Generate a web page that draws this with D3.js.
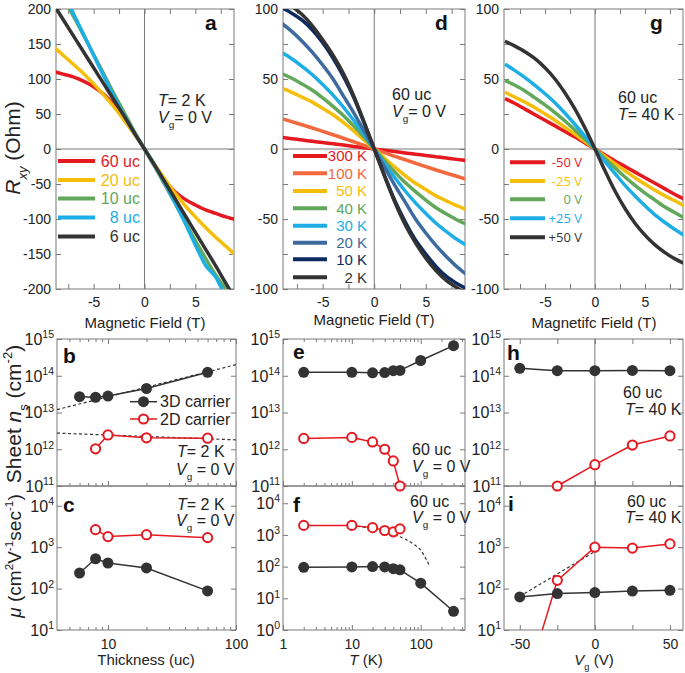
<!DOCTYPE html>
<html><head><meta charset="utf-8">
<script src="https://cdn.jsdelivr.net/npm/d3@7"></script>
<style>body{margin:0;background:#fff}svg{display:block}text{font-family:"Liberation Sans",Arial,sans-serif}</style>
</head><body><svg id="c" width="685" height="673"></svg>
<script>
// ---------------- DATA ----------------
const fieldB = [-9,-8,-7,-6,-5,-4,-3,-2,-1,0,1,2,3,4,5,6,7,8,9];
// panel a : Rxy vs B for thickness (T=2K, Vg=0)
const thickLabels = ['60 uc','20 uc','10 uc','8 uc','6 uc'];
const rxy60uc = [111,107,103,97,89,78,63,44,23,0,-24,-45,-61,-72,-80,-87,-92,-97,-101];
const rxy20uc = [147,134,121,108,93,77,60,41,21,0,-22,-43,-63,-81,-97,-112,-126,-139,-152];
const rxy10uc = [245,216,190,163,135,107,79,52,25,0,-25,-51,-77,-104,-131,-156,-180,-201,-224];
const rxy8uc  = [252,223,194,164,134,104,75,48,23,0,-23,-49,-77,-106,-137,-166,-183,-212,-240];
const rxy6uc  = [208,185,162,139,116,93,70,47,23,0,-23,-47,-71,-95,-119,-143,-167,-192,-216];
// panel d : Rxy vs B for temperature (60 uc, Vg=0)
const tempLabels = ['300 K','100 K','50 K','40 K','30 K','20 K','10 K','2 K'];
const rxy300K = [8.3,7.4,6.4,5.5,4.6,3.7,2.8,1.8,0.9,0,-0.9,-1.8,-2.8,-3.7,-4.6,-5.5,-6.4,-7.4,-8.3];
const rxy100K = [21.8,19.5,17.3,15,12.6,10.2,7.7,5.2,2.6,0,-2.6,-5.2,-7.7,-10.2,-12.6,-15,-17.3,-19.5,-21.8];
const rxy50K  = [43.5,40.5,37,33.5,29,24.5,19,13,6.5,0,-6.5,-13,-19,-24.5,-29,-33.5,-37,-40.5,-43.5];
const rxy40K  = [54,50.5,46.5,42,36.5,30.5,24,16.5,8.5,0,-8.5,-16.5,-24,-30.5,-36.5,-42,-46.5,-50.5,-54];
const rxy30K  = [69,64.5,59,53,46,38.5,30,20.5,10.5,0,-10.5,-20.5,-30,-38.5,-46,-53,-59,-64.5,-69];
const rxy20K  = [90,84,77,69,60,50,38,26,13,0,-13,-26,-38,-50,-60,-69,-77,-84,-90];
const rxy10K  = [101,97,92,85,76,65,52,37,19,0,-19,-37,-52,-65,-75,-84,-91,-96,-100];
const rxy2K   = [107,102,96,88,78,67,54,38,19.5,0,-19.5,-38,-54,-67,-78,-87,-94,-99,-104];
// panel g : Rxy vs B for gate voltage (60 uc, T=40K)
const gateLabels = ['-50 V','-25 V','0 V','+25 V','+50 V'];
const rxyVm50 = [36,32.5,28.5,24.5,20.5,16.5,12.5,8.5,4.3,0,-4.3,-8.5,-12.5,-16.5,-20.5,-24.5,-28.5,-32.5,-36];
const rxyVm25 = [40.5,37,33.5,29.5,25,20.5,15.5,10.5,5.3,0,-5.3,-10.5,-15.5,-20.5,-25,-29.5,-33.5,-37,-41];
const rxyV0   = [49,45.5,41.5,36.5,31.5,26,20,13.5,7,0,-7,-13.5,-20,-26,-31.5,-36.5,-41.5,-45.5,-49.5];
const rxyVp25 = [60.5,56,51,45.5,39.5,33,25.5,17.5,9,0,-9,-17.5,-26,-33.5,-40.5,-47,-52.5,-57.5,-62];
const rxyVp50 = [77,73.5,69.5,64.5,58,50,40,28.5,15,0,-15.5,-30,-42.5,-53,-61.5,-68.5,-74,-78.5,-82];

// panels b, c : vs thickness
const thickness3D = [6,8,10,20,60];
const thickness2D = [8,10,20,60];
const ns3DThick = [2.7e13,2.6e13,2.8e13,4.5e13,1.24e14];
const ns2DThick = [1.03e12,2.45e12,2.05e12,2.0e12];
const fitThick = [4,100];
const fitNs3DThick = [1.2e13,2.0e14];
const fitNs2DThick = [2.75e12,1.8e12];
const mu3DThick = [238,525,415,315,88];
const mu2DThick = [2650,1800,2000,1700];
// panels e, f : vs temperature
const temp3D = [2,10,20,30,40,50,100,300];
const temp2D = [2,10,20,30,40,50];
const ns3DTemp = [1.24e14,1.24e14,1.2e14,1.22e14,1.37e14,1.4e14,2.6e14,6.6e14];
const ns2DTemp = [1.97e12,2.1e12,1.58e12,1.0e12,4.8e11,1.0e11];
const mu3DTemp = [95,98,100,98,86,79,30,3.9];
const mu2DTemp = [2000,2000,1700,1380,1250,1550];
const fitTemp = [12,20,30,45,60,80,100,120,136];
const fitMuTemp = [1850,1600,1300,950,730,500,330,170,100];
// panels h, i : vs gate
const gate3D = [-50,-25,0,25,50];
const gate2DNs = [-25,0,25,50];
const gate2DMu = [-50,-25,0,25,50];
const ns3DGate = [1.59e14,1.37e14,1.37e14,1.4e14,1.37e14];
const ns2DGate = [1.0e11,3.8e11,1.3e12,2.3e12];
const mu3DGate = [63,76,80,87,91];
const mu2DGate = [0.16,158,1000,950,1200];
const fitGate = [-50,3];
const fitMuGate = [65,910];

// tick values
const fieldTicks = [-7.5,-5,-2.5,0,2.5,5,7.5];
const fieldTickLabels = [-5,0,5];

// ---------------- DRAW ----------------
const FONT = '"Liberation Sans", Arial, sans-serif';
const AX = '#7a7a7a';
const TXT = '#222';
const RED = '#e5191f', YEL = '#f5be0b', GRN = '#62a85a', CYA = '#1eaee6', DRK = '#333333';
const ORG = '#f4683d', STL = '#3e6b9f', NAV = '#0d2b5e';

const svg = d3.select('#c');
const defs = svg.append('defs');

function panel(o){
  const x = (o.xlog ? d3.scaleLog() : d3.scaleLinear()).domain(o.xd).range([o.x0,o.x1]);
  const y = (o.ylog ? d3.scaleLog() : d3.scaleLinear()).domain(o.yd).range([o.y1,o.y0]);
  const cid = 'clip-' + o.id;
  defs.append('clipPath').attr('id',cid).append('rect')
    .attr('x',o.x0).attr('y',o.y0).attr('width',o.x1-o.x0).attr('height',o.y1-o.y0);
  return {x, y, o, clip:'url(#'+cid+')'};
}

function axis(p, side, values, len, fmt, pad, fs){
  const {x,y,o} = p;
  let ax, tr;
  if(side==='left'){ ax = d3.axisLeft(y); tr=[o.x0,0]; }
  else if(side==='right'){ ax = d3.axisRight(y); tr=[o.x1,0]; }
  else if(side==='top'){ ax = d3.axisTop(x); tr=[0,o.y0]; }
  else { ax = d3.axisBottom(x); tr=[0,o.y1]; }
  ax.tickValues(values).tickSizeInner(-len).tickSizeOuter(0).tickPadding(pad||4)
    .tickFormat(fmt || (()=>''));
  const g = svg.append('g').attr('transform','translate('+tr+')').call(ax)
    .attr('font-family',FONT).attr('font-size',fs||14);
  g.select('.domain').remove();
  g.selectAll('line').attr('stroke',AX);
  g.selectAll('text').attr('fill',TXT);
  return g;
}

function frame(p){
  const o = p.o;
  svg.append('rect').attr('x',o.x0).attr('y',o.y0).attr('width',o.x1-o.x0).attr('height',o.y1-o.y0)
    .attr('fill','none').attr('stroke',AX).attr('stroke-width',1);
}

function zeroLines(p, horiz){
  const {x,y,o} = p;
  svg.append('line').attr('x1',x(0)).attr('x2',x(0)).attr('y1',o.y0).attr('y2',o.y1).attr('stroke',AX).attr('stroke-width',1);
  if(horiz) svg.append('line').attr('x1',o.x0).attr('x2',o.x1).attr('y1',y(0)).attr('y2',y(0)).attr('stroke',AX).attr('stroke-width',1);
}

function rich(x, y, parts, size, anchor, color, extra){
  const t = svg.append('text').attr('x',x).attr('y',y).style('font-size',size+'px')
    .attr('text-anchor',anchor||'start').attr('fill',color||TXT);
  if(extra) extra(t);
  let shift = 0;
  parts.forEach(pt=>{
    const s = t.append('tspan').text(pt.t);
    const target = pt.sub ? 0.33*size : pt.sup ? -0.42*size : 0;
    if(target!==shift){ s.attr('dy', target-shift); shift = target; }
    if(pt.sub||pt.sup) s.style('font-size',(size*0.62)+'px');
    if(pt.i) s.style('font-style','italic');
    if(pt.b) s.style('font-weight','bold');
  });
  return t;
}

function logLabels(p, exps){
  const {y,o} = p;
  exps.forEach(e=>{
    const t = svg.append('text').attr('x',o.x0-3).attr('y',y(Math.pow(10,e))).attr('dy','0.36em')
      .attr('text-anchor','end').attr('fill',TXT).style('font-size','16px');
    t.append('tspan').text('10');
    t.append('tspan').attr('dy','-0.62em').style('font-size','10.5px').text(e);
  });
}

function panelLabel(x,y,s){
  svg.append('text').attr('x',x).attr('y',y).text(s).style('font-size','21px').style('font-weight','bold').attr('fill','#111');
}

// ---------- top row ----------
const A = panel({id:'a', x0:56, x1:234, y0:9, y1:289, xd:[-8.7,8.8], yd:[-200,200]});
const D = panel({id:'d', x0:283, x1:465, y0:9, y1:289, xd:[-8.85,8.8], yd:[-100,100]});
const G = panel({id:'g', x0:504, x1:683, y0:9, y1:289, xd:[-9.1,8.8], yd:[-100,100]});

function topAxes(p, yt, ylab){
  axis(p,'left',yt,5,d=> ylab.includes(d)? d : '',5);
  axis(p,'right',yt,5);
  axis(p,'top',fieldTicks,5);
  axis(p,'bottom',fieldTicks,5,d=> fieldTickLabels.includes(d)? d : '',8);
  zeroLines(p,true);
  frame(p);
}
topAxes(A, d3.range(-200,201,50), d3.range(-200,201,50));
topAxes(D, d3.range(-100,101,25), d3.range(-100,101,50));
topAxes(G, d3.range(-100,101,25), d3.range(-100,101,50));

function curves(p, series, colors, width){
  const line = d3.line().x((d,i)=>p.x(fieldB[i])).y(d=>p.y(d)).curve(d3.curveMonotoneX);
  const g = svg.append('g').attr('clip-path',p.clip);
  series.forEach((s,k)=>{
    g.append('path').attr('d',line(s)).attr('fill','none').attr('stroke',colors[k])
      .attr('stroke-width',width).attr('stroke-linecap','butt');
  });
}
curves(A,[rxy60uc,rxy20uc,rxy10uc,rxy8uc,rxy6uc],[RED,YEL,GRN,CYA,DRK],3.5);
curves(D,[rxy300K,rxy100K,rxy50K,rxy40K,rxy30K,rxy20K,rxy10K,rxy2K],[RED,ORG,YEL,GRN,CYA,STL,NAV,DRK],3.5);
curves(G,[rxyVm50,rxyVm25,rxyV0,rxyVp25,rxyVp50],[RED,YEL,GRN,CYA,DRK],3.5);

function legend(labels, colors, lx0, lx1, rows, tx, fs, family){
  labels.forEach((l,i)=>{
    svg.append('line').attr('x1',lx0).attr('x2',lx1).attr('y1',rows[i]).attr('y2',rows[i])
      .attr('stroke',colors[i]).attr('stroke-width',4);
    const t = svg.append('text').attr('x',tx).attr('y',rows[i]).attr('dy','0.36em').attr('text-anchor','end')
      .attr('fill',colors[i]).style('font-size',fs+'px').text(l);
    if(family) t.style('font-family',family);
  });
}
legend(thickLabels,[RED,YEL,GRN,CYA,DRK],58,95,[161,180,198.5,217.5,236.5],140,16);
legend(tempLabels,[RED,ORG,YEL,GRN,CYA,STL,NAV,DRK],293,327,[156,173.3,191,208.3,225.7,242.7,259.3,277.3],367,15);
legend(gateLabels,[RED,YEL,GRN,CYA,DRK],510,545,[162.3,181,199.3,218.3,237.3],582,13,'"Open Sans", sans-serif');

rich(158,106,[{t:'T',i:true},{t:'= 2 K'}],16);
rich(158,123,[{t:'V',i:true},{t:'g',sub:true},{t:'= 0 V'}],16);
rich(392,100,[{t:'60 uc'}],16);
rich(392,117,[{t:'V',i:true},{t:'g',sub:true},{t:'= 0 V'}],16);
rich(618,103,[{t:'60 uc'}],16);
rich(618,120,[{t:'T',i:true},{t:'= 40 K'}],16);

panelLabel(205,30,'a'); panelLabel(435,30,'d'); panelLabel(650,30,'g');

svg.append('text').attr('x',145).attr('y',328).attr('text-anchor','middle').style('font-size','15px').attr('fill',TXT).text('Magnetic Field (T)');
svg.append('text').attr('x',374).attr('y',325).attr('text-anchor','middle').style('font-size','15px').attr('fill',TXT).text('Magnetic Field (T)');
svg.append('text').attr('x',594).attr('y',328).attr('text-anchor','middle').style('font-size','15px').attr('fill',TXT).text('Magnetifc Field (T)');

// ---------- bottom rows ----------
const B = panel({id:'b', x0:57, x1:236, y0:339, y1:486, xlog:true, xd:[4,100], ylog:true, yd:[1e11,1e15]});
const C = panel({id:'c', x0:57, x1:236, y0:486, y1:630, xlog:true, xd:[4,100], ylog:true, yd:[10,3e4]});
const E = panel({id:'e', x0:283, x1:465, y0:339, y1:486, xlog:true, xd:[1,440], ylog:true, yd:[1e11,1e15]});
const F = panel({id:'f', x0:283, x1:465, y0:486, y1:630, xlog:true, xd:[1,440], ylog:true, yd:[1,3.5e4]});
const H = panel({id:'h', x0:504, x1:683, y0:339, y1:486, xd:[-60.5,58.7], ylog:true, yd:[1e11,1e15]});
const I = panel({id:'i', x0:504, x1:683, y0:486, y1:630, xd:[-60.5,58.7], ylog:true, yd:[10,3e4]});

const thickMinor = [5,6,7,8,9,20,30,40,50,60,70,80,90];
const thickMajor = [10,100];
const tempMinor = [2,3,4,5,6,7,8,9,20,30,40,50,60,70,80,90,200,300,400];
const tempMajor = [1,10,100];
const gateTicks = [-50,-25,0,25,50];
const nsDecades = [1e11,1e12,1e13,1e14,1e15];

function logYAxes(p, decs){
  axis(p,'left',decs,5);
  axis(p,'right',decs,5);
}
function xAxes(p, major, minor, top, labels){
  if(top){ axis(p,'top',major,5); if(minor) axis(p,'top',minor,3); }
  axis(p,'bottom',major,5, labels ? (d=> labels.includes(d) ? d : '') : null, 9);
  if(minor) axis(p,'bottom',minor,3);
}
[B,E,H].forEach(p=>logYAxes(p,nsDecades));
logYAxes(C,[1e1,1e2,1e3,1e4]);
logYAxes(I,[1e1,1e2,1e3,1e4]);
logYAxes(F,[1,1e1,1e2,1e3,1e4]);
xAxes(B,thickMajor,thickMinor,true,null);
xAxes(C,thickMajor,thickMinor,false,[10,100]);
xAxes(E,tempMajor,tempMinor,true,null);
xAxes(F,tempMajor,tempMinor,false,[1,10,100]);
xAxes(H,gateTicks,null,true,null);
xAxes(I,gateTicks,null,false,[-50,0,50]);
zeroLines(H,false); zeroLines(I,false);
[B,C,E,F,H,I].forEach(frame);

logLabels(B,[11,12,13,14,15]);
logLabels(E,[11,12,13,14,15]);
logLabels(H,[11,12,13,14,15]);
logLabels(C,[1,2,3,4]);
logLabels(I,[1,2,3,4]);
logLabels(F,[0,1,2,3,4]);

function dashed(p, xs, ys){
  const line = d3.line().x((d,i)=>p.x(xs[i])).y(d=>p.y(d)).curve(d3.curveMonotoneX);
  svg.append('path').attr('clip-path',p.clip).attr('d',line(ys)).attr('fill','none')
    .attr('stroke','#333').attr('stroke-width',1.2).attr('stroke-dasharray','3,2.5');
}
function series(p, xs, ys, open, clip){
  const line = d3.line().x((d,i)=>p.x(xs[i])).y(d=>p.y(d));
  const col = open ? RED : DRK;
  const path = svg.append('path').attr('d',line(ys)).attr('fill','none').attr('stroke',col).attr('stroke-width',1.5);
  if(clip) path.attr('clip-path',p.clip);
  const dom = p.y.domain();
  ys.forEach((v,i)=>{
    if(v < dom[0]*0.9) return;
    const c = svg.append('circle').attr('cx',p.x(xs[i])).attr('cy',p.y(v));
    if(open) c.attr('r',4.6).attr('fill','#fff').attr('stroke',RED).attr('stroke-width',2);
    else c.attr('r',5.5).attr('fill',DRK);
  });
}

dashed(B,fitThick,fitNs3DThick);
dashed(B,fitThick,fitNs2DThick);
series(B,thickness3D,ns3DThick,false);
series(B,thickness2D,ns2DThick,true);
series(C,thickness2D,mu2DThick,true);
series(C,thickness3D,mu3DThick,false);

series(E,temp3D,ns3DTemp,false);
series(E,temp2D,ns2DTemp,true);
dashed(F,fitTemp,fitMuTemp);
series(F,temp2D,mu2DTemp,true);
series(F,temp3D,mu3DTemp,false);

series(H,gate3D,ns3DGate,false);
series(H,gate2DNs,ns2DGate,true);
dashed(I,fitGate,fitMuGate);
series(I,gate2DMu,mu2DGate,true,true);
series(I,gate3D,mu3DGate,false);

// legend in b
svg.append('line').attr('x1',130).attr('x2',157).attr('y1',401.7).attr('y2',401.7).attr('stroke',DRK).attr('stroke-width',1.5);
svg.append('circle').attr('cx',143.5).attr('cy',401.7).attr('r',5.5).attr('fill',DRK);
svg.append('text').attr('x',160).attr('y',407).style('font-size','16px').attr('fill',TXT).text('3D carrier');
svg.append('line').attr('x1',130).attr('x2',157).attr('y1',419).attr('y2',419).attr('stroke',RED).attr('stroke-width',1.5);
svg.append('circle').attr('cx',143.5).attr('cy',419).attr('r',4.6).attr('fill','#fff').attr('stroke',RED).attr('stroke-width',2);
svg.append('text').attr('x',160).attr('y',424.5).style('font-size','16px').attr('fill',TXT).text('2D carrier');

// annotations
rich(177,457,[{t:'T',i:true},{t:'= 2 K'}],16);
rich(176,475,[{t:'V',i:true},{t:'g',sub:true},{t:' = 0 V'}],16);
rich(177,510,[{t:'T',i:true},{t:'= 2 K'}],16);
rich(176,526,[{t:'V',i:true},{t:'g',sub:true},{t:' = 0 V'}],16);
rich(412,455,[{t:'60 uc'}],16);
rich(412,472,[{t:'V',i:true},{t:'g',sub:true},{t:' = 0 V'}],16);
rich(410,507,[{t:'60 uc'}],16);
rich(412,523,[{t:'V',i:true},{t:'g',sub:true},{t:' = 0 V'}],16);
rich(623,398,[{t:'60 uc'}],16);
rich(625,415,[{t:'T',i:true},{t:'= 40 K'}],16);
rich(627,507,[{t:'60 uc'}],16);
rich(625,523,[{t:'T',i:true},{t:'= 40 K'}],16);

panelLabel(63,363,'b'); panelLabel(293,359,'e'); panelLabel(507,360,'h');
panelLabel(63,512,'c'); panelLabel(293,512,'f'); panelLabel(508,511,'i');

// x titles bottom
rich(146,665,[{t:'Thickness (uc)'}],15,'middle');
rich(366,665,[{t:'T',i:true},{t:' (K)'}],15,'middle');
rich(594,665,[{t:'V',i:true},{t:'g',sub:true},{t:' (V)'}],15,'middle');

// y titles
function yTitle(x, y, parts, size){
  rich(0,0,parts,size,'middle',TXT,t=>t.attr('transform','translate('+x+','+y+') rotate(-90)'));
}
yTitle(20,148,[{t:'R',i:true},{t:'xy',sub:true,i:true},{t:' (Ohm)'}],21);
yTitle(21,414,[{t:'Sheet '},{t:'n',i:true},{t:'s',sub:true},{t:' (cm'},{t:'-2',sup:true},{t:')'}],21);
yTitle(21,556,[{t:'μ',i:true},{t:' (cm'},{t:'2',sup:true},{t:'V'},{t:'-1',sup:true},{t:'sec'},{t:'-1',sup:true},{t:')'}],19);
</script></body></html>
